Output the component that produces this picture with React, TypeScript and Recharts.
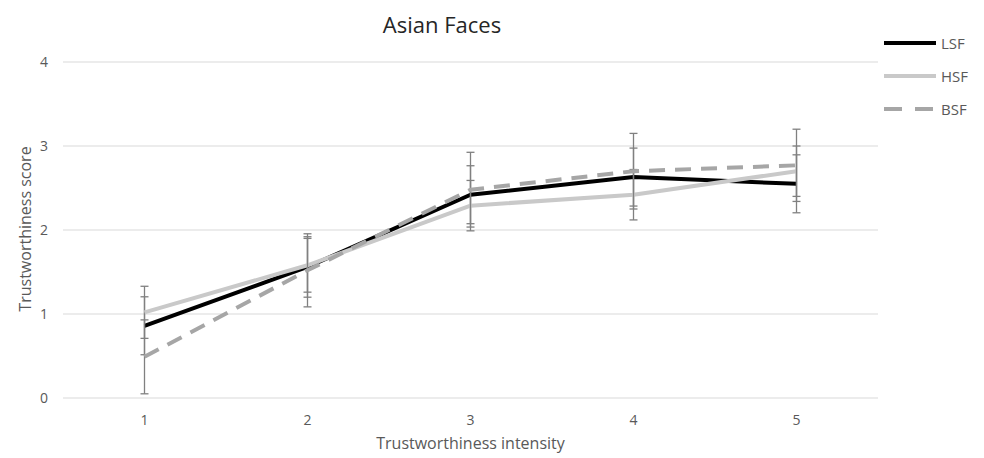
import React from 'react';
import { LineChart, Line, XAxis, YAxis, CartesianGrid, ErrorBar, Legend, Customized } from 'recharts';

const categories = ['1', '2', '3', '4', '5'];
const lsf = [0.86, 1.56, 2.42, 2.63, 2.55];
const hsf = [1.02, 1.58, 2.29, 2.42, 2.7];
const bsf = [0.49, 1.52, 2.48, 2.7, 2.77];
const lsfErr = [0.345, 0.36, 0.345, 0.345, 0.345];
const hsfErr = [0.31, 0.32, 0.3, 0.3, 0.3];
const bsfErr = [0.44, 0.435, 0.445, 0.45, 0.43];
const yTicks = [0, 1, 2, 3, 4];

const data = categories.map((c, i) => ({
  cat: c,
  LSF: lsf[i],
  HSF: hsf[i],
  BSF: bsf[i],
  lsfErr: lsfErr[i],
  hsfErr: hsfErr[i],
  bsfErr: bsfErr[i],
}));

const FONT = '"Open Sans", "DejaVu Sans", sans-serif';
const GREY_TEXT = '#595959';
const ERR = '#808080';

const legendItems = [
  { name: 'LSF', color: '#000000', dash: undefined as string | undefined },
  { name: 'HSF', color: '#c9c9c9', dash: undefined as string | undefined },
  { name: 'BSF', color: '#a6a6a6', dash: '18 13' },
];

const LegendContent = () => (
  <svg width={104} height={100} style={{ display: 'block' }}>
    {legendItems.map((it, i) => {
      const y = 15 + i * 33;
      return (
        <g key={it.name}>
          <line x1={4} x2={56} y1={y} y2={y} stroke={it.color} strokeWidth={4} strokeDasharray={it.dash} />
          <text x={61} y={y} dominantBaseline="central" fontSize={15} fill={GREY_TEXT} fontFamily={FONT}>
            {it.name}
          </text>
        </g>
      );
    })}
  </svg>
);

const Title = () => (
  <text x={442} y={33} textAnchor="middle" fontSize={22} fill="#262626" fontFamily={FONT}>
    Asian Faces
  </text>
);

const YLabel = (props: any) => {
  const vb = props.viewBox || { x: 0, y: 62, width: 63, height: 336 };
  const cx = vb.x + 25;
  const cy = vb.y + vb.height / 2 - 1;
  return (
    <text
      x={cx}
      y={cy}
      transform={`rotate(-90 ${cx} ${cy})`}
      textAnchor="middle"
      dominantBaseline="central"
      fontSize={16}
      fill={GREY_TEXT}
      fontFamily={FONT}
    >
      Trustworthiness score
    </text>
  );
};

export default function App() {
  return (
    <div style={{ position: 'absolute', left: 0, top: 0, width: 984, height: 458, background: '#fff' }}>
      <LineChart width={984} height={458} data={data} margin={{ top: 62, right: 106, bottom: 30, left: 0 }}>
        <CartesianGrid vertical={false} stroke="#d9d9d9" strokeWidth={1} />
        <XAxis
          dataKey="cat"
          axisLine={false}
          tickLine={false}
          tickSize={0}
          tickMargin={17}
          height={30}
          padding={{ left: 81.5, right: 81.5 }}
          tick={{ fontSize: 14, fill: GREY_TEXT, fontFamily: FONT }}
          label={{ value: 'Trustworthiness intensity', position: 'bottom', offset: 10, fontSize: 16, fill: GREY_TEXT, fontFamily: FONT }}
        />
        <YAxis
          width={63}
          domain={[0, 4]}
          ticks={yTicks}
          axisLine={false}
          tickLine={false}
          tickSize={0}
          tickMargin={15}
          tick={{ fontSize: 14, fill: GREY_TEXT, fontFamily: FONT }}
          label={{ content: YLabel }}
        />
        <Line dataKey="LSF" stroke="#000000" strokeWidth={4} dot={false} isAnimationActive={false} strokeLinejoin="round">
          <ErrorBar dataKey="lsfErr" direction="y" width={4} stroke={ERR} strokeWidth={1.3} isAnimationActive={false} />
        </Line>
        <Line dataKey="HSF" stroke="#c9c9c9" strokeWidth={4} dot={false} isAnimationActive={false} strokeLinejoin="round">
          <ErrorBar dataKey="hsfErr" direction="y" width={4} stroke={ERR} strokeWidth={1.3} isAnimationActive={false} />
        </Line>
        <Line dataKey="BSF" stroke="#a6a6a6" strokeWidth={4} strokeDasharray="16 10" dot={false} isAnimationActive={false} strokeLinejoin="round">
          <ErrorBar dataKey="bsfErr" direction="y" width={4} stroke={ERR} strokeWidth={1.3} isAnimationActive={false} />
        </Line>
        <Legend
          layout="vertical"
          align="center"
          verticalAlign="middle"
          content={<LegendContent />}
          wrapperStyle={{ position: 'absolute', left: 880, top: 28, width: 104, height: 100 }}
        />
        <Customized component={Title} />
      </LineChart>
    </div>
  );
}
